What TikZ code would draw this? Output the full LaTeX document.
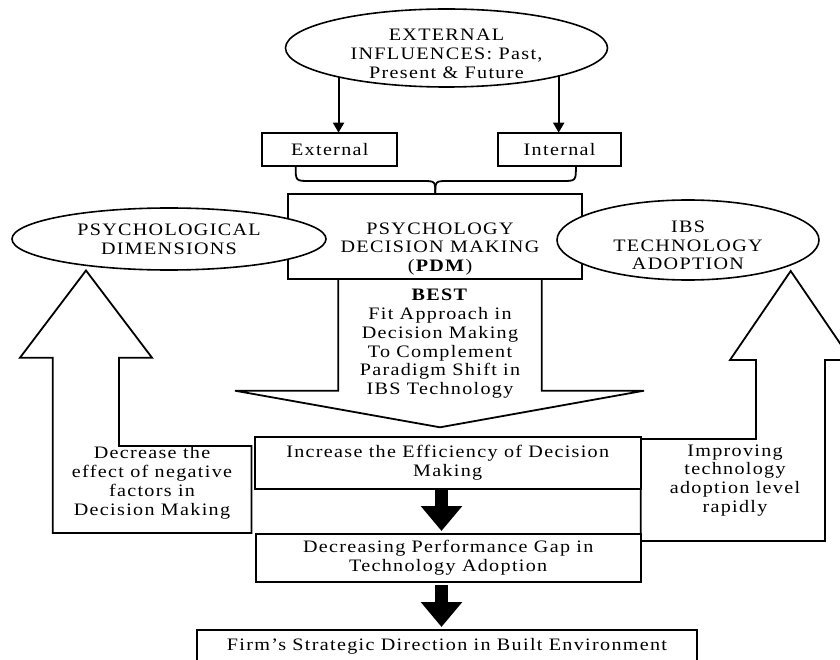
\documentclass[tikz,border=0pt]{standalone}
\usepackage{fontspec}
\setmainfont{Liberation Serif}[FakeStretch=1.15,LetterSpace=7.5]
\usetikzlibrary{shapes.geometric,arrows.meta,calc}
\begin{document}
\begin{tikzpicture}[x=1pt,y=-1pt,line width=1.8pt,
  every node/.style={font=\fontsize{17.5}{18.7}\selectfont,align=center,inner sep=0pt,outer sep=0pt},
  box/.style={draw,rectangle,fill=white},
  ell/.style={draw,ellipse,fill=white,line width=1.6pt},
  conn/.style={line width=2pt,-{Triangle[width=11pt,length=10pt]}},
  blk/.style={line width=13pt,-{Triangle[width=40pt,length=25pt]}},
  blockarrow/.style={draw,line join=miter}
]
\useasboundingbox (0,0) rectangle (840,660);

% top ellipse
\node[ell,minimum width=322pt,minimum height=78pt] (extE) at (446.5,48) {};
\node (extT) at (446.5,54) {EXTERNAL\\INFLUENCES: Past,\\Present \& Future};

% external / internal
\node[box,minimum width=135pt,minimum height=33.3pt] (External) at (329.8,149.3) {External};
\node[box,minimum width=122.7pt,minimum height=33.3pt] (Internal) at (559.6,149.3) {Internal};
\draw[conn] (extE.195) -- (extE.195 |- External.north);
\draw[conn] (extE.-14.3) -- (extE.-14.3 |- Internal.north);

% PDM box
\node[box,minimum width=294pt,minimum height=85.3pt] (PDM) at (435.3,236.7) {};
\node (PDMt) at (440,248.8) {PSYCHOLOGY\\DECISION MAKING\\(\textbf{PDM})};

% brace
\coordinate (bL) at ($(External.south west)!0.247!(External.south east)$);
\coordinate (bR) at ($(Internal.south west)!0.633!(Internal.south east)$);
\coordinate (bY) at (0,181);
\draw (bL) .. controls (bL |- bY) .. ($(bL |- bY)+(14,0)$) -- ($(PDM.north |- bY)+(-13,0)$) .. controls (PDM.north |- bY) .. (PDM.north);
\draw (bR) .. controls (bR |- bY) .. ($(bR |- bY)+(-14,0)$) -- ($(PDM.north |- bY)+(13,0)$) .. controls (PDM.north |- bY) .. (PDM.north);

% central down block arrow
\draw[blockarrow] (338.3,279.3) -- (338.3,390.7) -- (235,390.7) -- (440,427.3) -- (644,390.7) -- (541.7,390.7) -- (541.7,279.3);
\node (bestT) at (440,343.8) {\textbf{BEST}\\Fit Approach in\\Decision Making\\To Complement\\Paradigm Shift in\\IBS Technology};

% side ellipses (over the PDM box)
\node[ell,minimum width=314pt,minimum height=62pt] (psyE) at (169,239) {PSYCHOLOGICAL\\DIMENSIONS};
\node[ell,minimum width=262pt,minimum height=80pt] (ibsE) at (688,240) {};
\node (ibsT) at (688,245.5) {IBS\\TECHNOLOGY\\ADOPTION};

% left up block arrow
\draw[blockarrow] (52.7,533) -- (52.7,357.7) -- (20,357.7) -- (86,270.5) -- (152,357.7) -- (119,357.7) -- (119,446) -- (251.5,446) -- (251.5,533) -- cycle;
\node (leftT) at (152,482.8) {Decrease the\\effect of negative\\factors in\\Decision Making};

% right up block arrow
\draw[blockarrow] (640.7,541) -- (640.7,439) -- (756,439) -- (756,360) -- (730,360) -- (790.7,271) -- (851.4,360) -- (825,360) -- (825,541) -- cycle;
\node (rightT) at (735,480.2) {Improving\\technology\\adoption level\\rapidly};

% central boxes
\node[box,minimum width=386pt,minimum height=52.3pt] (Increase) at (447.7,462.85) {Increase the Efficiency of Decision\\Making};
\node[box,minimum width=385pt,minimum height=48pt] (Decreasing) at (448.2,558) {Decreasing Performance Gap in\\Technology Adoption};
\node[box,minimum width=500pt,minimum height=32pt] (Firm) at (447,646) {Firm’s Strategic Direction in Built Environment};

% black arrows
\coordinate (ax) at (441.5,0);
\draw[blk,shorten >=3pt] (Increase.south -| ax) -- (Decreasing.north -| ax);
\draw[blk,shorten <=3pt,shorten >=3pt] (Decreasing.south -| ax) -- (Firm.north -| ax);
\end{tikzpicture}
\end{document}
